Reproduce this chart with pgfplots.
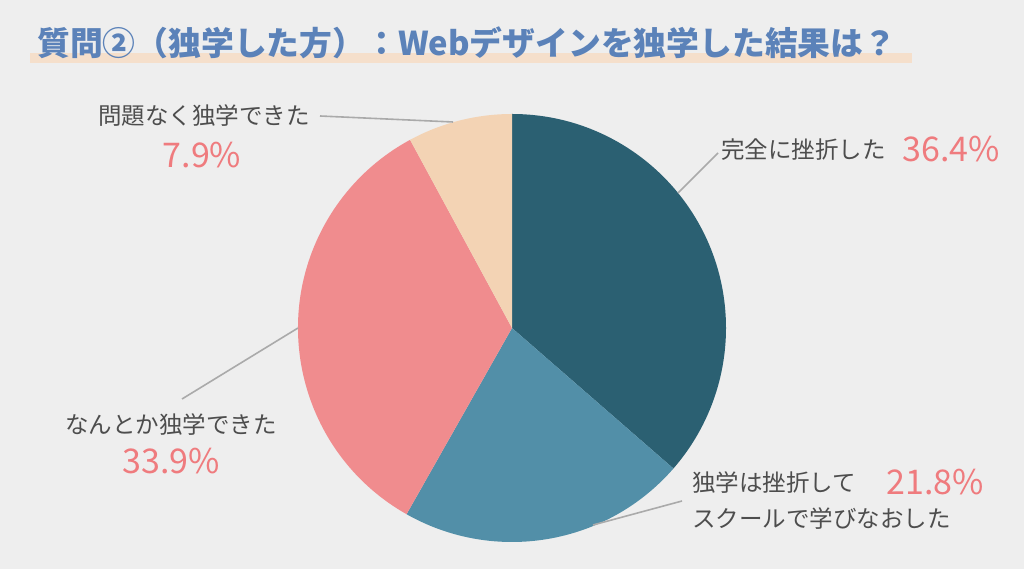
\documentclass[border=0pt]{standalone}
\usepackage{pgfplots}
\pgfplotsset{compat=1.18}
\usepackage{pgfplotstable}
\usepackage{fontspec}
\setmainfont{Noto Sans CJK JP}

\definecolor{bg}{HTML}{EEEEEE}
\definecolor{cA}{HTML}{2B6072}
\definecolor{cB}{HTML}{528FA8}
\definecolor{cC}{HTML}{F08C8E}
\definecolor{cD}{HTML}{F3D3B4}
\definecolor{titlec}{HTML}{5B82B9}
\definecolor{band}{HTML}{F5DFCB}
\definecolor{labc}{HTML}{4D4D4D}
\definecolor{pctc}{HTML}{EF7B7E}
\definecolor{leader}{HTML}{AAAAAA}

%% shares in percent, clockwise from 12 o'clock
\pgfplotstableread{
slice value
A 36.4
B 21.8
C 33.9
D 7.9
}\piedata

\begin{document}
\begin{tikzpicture}

  \pgfplotstablegetelem{0}{value}\of\piedata \let\vA\pgfplotsretval
  \pgfplotstablegetelem{1}{value}\of\piedata \let\vB\pgfplotsretval
  \pgfplotstablegetelem{2}{value}\of\piedata \let\vC\pgfplotsretval
  \pgfplotstablegetelem{3}{value}\of\piedata \let\vD\pgfplotsretval

  \pgfmathsetmacro\aA{90}
  \pgfmathsetmacro\aB{\aA-3.6*\vA}
  \pgfmathsetmacro\aC{\aB-3.6*\vB}
  \pgfmathsetmacro\aD{\aC-3.6*\vC}
  \pgfmathsetmacro\aE{\aD-3.6*\vD}

  \def\cx{512}
  \def\cy{241}
  \def\rr{214pt}

  \begin{axis}[
    scale only axis,
    width=1024pt, height=569pt,
    xmin=0, xmax=1024, ymin=0, ymax=569,
    hide axis,
    clip=false,
    ]

    \fill[bg] (axis cs:0,0) rectangle (axis cs:1024,569);

    %% title with highlight band
    \fill[band] (axis cs:30,506) rectangle (axis cs:912,516);
    \node[anchor=west, inner sep=0pt, text=titlec, font=\fontsize{32.8}{35}\selectfont\bfseries]
      at (axis cs:37,526) {質問②（独学した方）：Webデザインを独学した結果は？};

    %% slices
    \fill[cA] (axis cs:\cx,\cy) -- ++(\aA:\rr) arc[start angle=\aA, end angle=\aB, radius=\rr] -- cycle;
    \fill[cB] (axis cs:\cx,\cy) -- ++(\aB:\rr) arc[start angle=\aB, end angle=\aC, radius=\rr] -- cycle;
    \fill[cC] (axis cs:\cx,\cy) -- ++(\aC:\rr) arc[start angle=\aC, end angle=\aD, radius=\rr] -- cycle;
    \fill[cD] (axis cs:\cx,\cy) -- ++(\aD:\rr) arc[start angle=\aD, end angle=\aE, radius=\rr] -- cycle;

    %% leader lines
    \draw[leader, line width=1.6pt] (axis cs:718,416) -- (axis cs:678,376);
    \draw[leader, line width=1.6pt] (axis cs:182,170) -- (axis cs:298,241);
    \draw[leader, line width=1.6pt] (axis cs:682,68) -- (axis cs:593,44);
    \draw[leader, line width=1.6pt] (axis cs:320,453) -- (axis cs:453,447);

    %% labels
    \tikzset{lab/.style={inner sep=0pt, text=labc, font=\fontsize{23.5}{26}\selectfont},
             pct/.style={inner sep=0pt, text=pctc, font=\fontsize{34}{36}\selectfont}}

    \node[lab] at (axis cs:204,453) {問題なく独学できた};
    \node[pct] at (axis cs:202,414) {7.9\%};

    \node[lab, anchor=west] at (axis cs:721,419) {完全に挫折した};
    \node[pct] at (axis cs:951,420) {36.4\%};

    \node[lab] at (axis cs:171,144) {なんとか独学できた};
    \node[pct] at (axis cs:171,108) {33.9\%};

    \node[lab, anchor=west] at (axis cs:692,86) {独学は挫折して};
    \node[pct] at (axis cs:935,87) {21.8\%};
    \node[lab, anchor=west] at (axis cs:692,50) {スクールで学びなおした};

  \end{axis}

\end{tikzpicture}
\end{document}
